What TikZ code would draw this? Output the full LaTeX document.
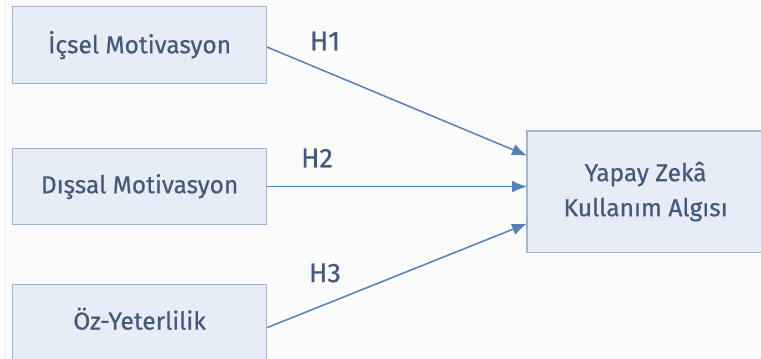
\documentclass[tikz,border=0pt]{standalone}
\usepackage{fontspec}
\setmainfont{Fira Sans}[FakeBold=0.6]
\usetikzlibrary{arrows.meta,calc}
\definecolor{bgc}{HTML}{FBFBFC}
\definecolor{boxfill}{HTML}{E7EDF6}
\definecolor{boxline}{HTML}{A2B5D0}
\definecolor{txt}{HTML}{45597A}
\definecolor{arr}{HTML}{5580B8}
\tikzset{
  varbox/.style={draw=boxline, line width=1.2pt, fill=boxfill, text=txt, font=\fontsize{24.5}{35}\selectfont, inner sep=0pt, anchor=north west},
  hlabel/.style={text=txt, font=\fontsize{27}{30}\selectfont, inner sep=0pt},
  link/.style={draw=arr, line width=1.5pt, -{Latex[length=15pt,width=12pt]}}
}
\begin{document}
\begin{tikzpicture}[x=1pt,y=-1pt]
\useasboundingbox[fill=bgc] (0,0) rectangle (761,359);
\draw[draw=black!7, line width=1pt] (5,0) -- (5,359);
\node[varbox, minimum width=254pt, minimum height=77pt] (A) at (12,6) {İçsel Motivasyon};
\node[varbox, minimum width=254pt, minimum height=76pt] (B) at (12,148) {Dışsal Motivasyon};
\node[varbox, minimum width=254pt, minimum height=76pt, text depth=8pt] (C) at (12,284) {Öz-Yeterlilik};
\node[varbox, minimum width=236pt, minimum height=120pt, align=center, draw=none] (D) at (527,131) {Yapay Zekâ\\Kullanım Algısı};
\draw[boxline, line width=1.2pt] ([xshift=30pt]D.north east) -- (D.north west) -- (D.south west) -- ([xshift=30pt]D.south east);
\node[hlabel] (h1) at (325,41) {H1};
\node[hlabel] (h2) at (317,158) {H2};
\node[hlabel] (h3) at (325,273) {H3};
\draw[link] ([yshift=-2pt]A.east) -- ([yshift=36pt]D.west);
\draw[link] (B.east) -- (B.east -| D.west);
\draw[link] ([yshift=-5pt]C.east) -- ([yshift=-32pt]D.west);
\end{tikzpicture}
\end{document}
